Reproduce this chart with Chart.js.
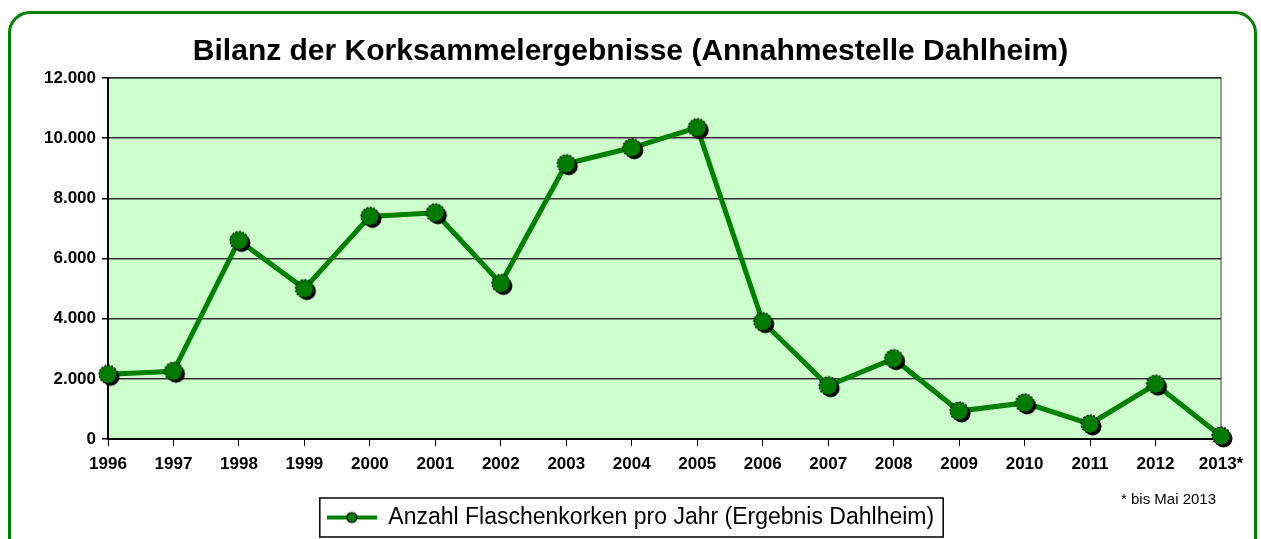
<!DOCTYPE html>
<html>
<head>
<meta charset="utf-8">
<script src="https://cdn.jsdelivr.net/npm/chart.js@4"></script>
<style>
  body { margin: 0; background: #fff; }
  #frame {
    position: absolute; left: 8px; top: 11px; width: 1249px; height: 600px;
    box-sizing: border-box; border: 3px solid #008000; border-radius: 22px;
  }
  #graphCanvas { position: absolute; left: 0; top: 0; }
</style>
</head>
<body>
<div id="frame"></div>
<canvas id="graphCanvas" width="1261" height="539"></canvas>
<script>
var years = ['1996', '1997', '1998', '1999', '2000', '2001', '2002', '2003', '2004',
             '2005', '2006', '2007', '2008', '2009', '2010', '2011', '2012', '2013*'];
var korken = [2150, 2250, 6600, 5000, 7400, 7520, 5170, 9150, 9680,
              10350, 3900, 1770, 2670, 930, 1200, 500, 1820, 100];
var yTicks = [0, 2000, 4000, 6000, 8000, 10000, 12000];

var seriesName = 'Anzahl Flaschenkorken pro Jahr (Ergebnis Dahlheim)';
var footnote = '* bis Mai 2013';

var mainFont = 'Arial, "Liberation Sans", sans-serif';

// german thousand separator
function fmt(v) {
    return String(v).replace(/\B(?=(\d{3})+(?!\d))/g, '.');
}

// legend symbol: line with dot
var legendIcon = document.createElement('canvas');
legendIcon.width = 50;
legendIcon.height = 16;
(function () {
    var c = legendIcon.getContext('2d');
    c.strokeStyle = '#008000';
    c.lineWidth = 4;
    c.beginPath();
    c.moveTo(0, 8);
    c.lineTo(50, 8);
    c.stroke();
    c.beginPath();
    c.arc(25, 8, 5, 0, Math.PI * 2);
    c.fillStyle = '#008000';
    c.fill();
    c.lineWidth = 1.2;
    c.strokeStyle = '#000';
    c.stroke();
})();

// marker with a black shadow like the excel chart
var markerImg = document.createElement('canvas');
markerImg.width = 28;
markerImg.height = 28;
(function () {
    var c = markerImg.getContext('2d');
    c.fillStyle = '#000';
    c.beginPath();
    c.arc(16.5, 16.5, 9, 0, Math.PI * 2);
    c.fill();
    c.beginPath();
    c.arc(14, 14, 9, 0, Math.PI * 2);
    c.fillStyle = '#007A00';
    c.fill();
    c.lineWidth = 1.2;
    c.strokeStyle = '#000';
    c.setLineDash([2, 1.5]);
    c.stroke();
})();

var plotDeko = {
    id: 'plotDeko',
    beforeDraw: function (chart) {
        var a = chart.chartArea, ctx = chart.ctx;
        ctx.save();
        ctx.fillStyle = '#CCFFCC';
        ctx.fillRect(a.left, a.top, a.right - a.left, a.bottom - a.top);
        ctx.strokeStyle = '#999999';
        ctx.lineWidth = 2;
        ctx.beginPath();
        ctx.moveTo(a.left, a.top);
        ctx.lineTo(a.right, a.top);
        ctx.lineTo(a.right, a.bottom);
        ctx.stroke();
        ctx.restore();
    },
    afterDraw: function (chart) {
        var ctx = chart.ctx;
        var hb = chart.legend.legendHitBoxes[0];
        ctx.save();
        if (hb) {
            ctx.strokeStyle = '#000';
            ctx.lineWidth = 1.5;
            ctx.strokeRect(hb.left - 7, hb.top - 8, hb.width + 16, hb.height + 16);
        }
        ctx.fillStyle = '#000';
        ctx.font = '15px ' + mainFont;
        ctx.textAlign = 'right';
        ctx.textBaseline = 'middle';
        ctx.fillText(footnote, 1216, 500);
        ctx.restore();
    }
};

var chartdata = {
    labels: years,
    datasets: [
        {
            label: seriesName,
            data: korken,
            borderColor: '#008000',
            backgroundColor: '#008000',
            borderWidth: 5,
            pointStyle: markerImg,
            pointRadius: 9,
            pointHoverRadius: 9,
            tension: 0,
            fill: false,
            clip: false
        }
    ]
};

var LineGraph = new Chart(document.getElementById('graphCanvas'), {
    type: 'line',
    data: chartdata,
    plugins: [plotDeko],
    options: {
        responsive: false,
        animation: false,
        layout: { padding: { left: 20, right: 20, top: 0, bottom: 0 } },
        plugins: {
            title: {
                display: true,
                text: 'Bilanz der Korksammelergebnisse (Annahmestelle Dahlheim)',
                color: '#000',
                font: { family: mainFont, size: 30, weight: 'bold' },
                padding: { top: 34, bottom: 8 }
            },
            legend: {
                display: true,
                position: 'bottom',
                labels: {
                    color: '#000',
                    font: { family: mainFont, size: 23 },
                    usePointStyle: true,
                    pointStyleWidth: 50,
                    padding: 8,
                    generateLabels: function (chart) {
                        var items = Chart.defaults.plugins.legend.labels.generateLabels(chart);
                        items.forEach(function (it) { it.pointStyle = legendIcon; });
                        return items;
                    }
                }
            },
            tooltip: { enabled: false }
        },
        scales: {
            x: {
                offset: false,
                afterFit: function (scale) { scale.height = 59; },
                grid: { drawOnChartArea: false, drawTicks: true, tickLength: 7, tickColor: '#000' },
                border: { color: '#000', width: 2 },
                ticks: {
                    color: '#000',
                    padding: 8,
                    maxRotation: 0,
                    autoSkip: false,
                    font: { family: mainFont, size: 17, weight: 'bold' }
                }
            },
            y: {
                min: 0,
                max: 12000,
                afterFit: function (scale) { scale.width = 88; },
                afterBuildTicks: function (scale) {
                    scale.ticks = yTicks.map(function (v) { return { value: v }; });
                },
                grid: { color: '#333', lineWidth: 1.5, tickLength: 6, tickColor: '#000' },
                border: { color: '#000', width: 2 },
                ticks: {
                    color: '#000',
                    padding: 6,
                    font: { family: mainFont, size: 17, weight: 'bold' },
                    callback: function (v) { return fmt(v); }
                }
            },
            // empty right axis, only keeps the plot clear of the right frame
            yRight: {
                position: 'right',
                display: true,
                min: 0,
                max: 12000,
                afterFit: function (scale) { scale.width = 20; },
                grid: { display: false },
                border: { display: false },
                ticks: { display: false }
            }
        }
    }
});
</script>
</body>
</html>
